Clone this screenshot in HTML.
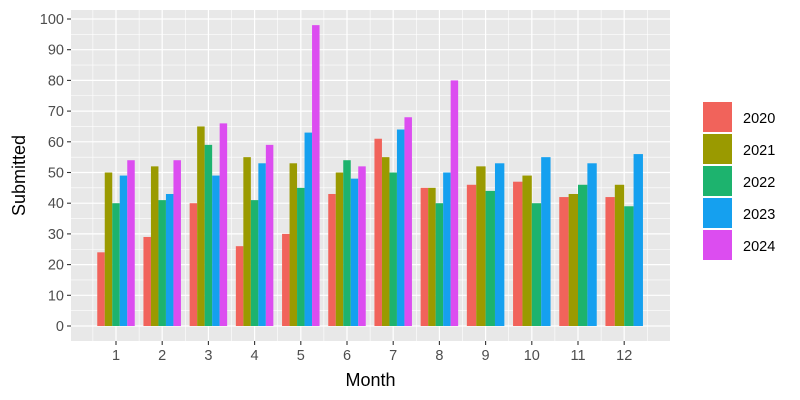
<!DOCTYPE html>
<html><head><style>body{margin:0;background:#fff}svg{display:block}text{font-family:"Liberation Sans",sans-serif}</style></head><body>
<svg width="800" height="400" id="s" xmlns="http://www.w3.org/2000/svg"></svg>
<script>
const s=document.getElementById('s');let h='';
const L=71,R=670,T=10,B=341;
const y0=326,k=3.07,x1=116,dx=46.2;
h+=`<rect x="${L}" y="${T}" width="${R-L}" height="${B-T}" fill="#e8e8e8"/>`;
for(let v=5;v<=100;v+=10)h+=`<line x1="${L}" x2="${R}" y1="${y0-v*k}" y2="${y0-v*k}" stroke="#fff" stroke-width="0.6"/>`;
for(let m=0.5;m<=12.5;m+=1)h+=`<line y1="${T}" y2="${B}" x1="${x1+(m-1)*dx}" x2="${x1+(m-1)*dx}" stroke="#fff" stroke-width="0.6"/>`;
for(let v=0;v<=100;v+=10){const y=y0-v*k;h+=`<line x1="${L}" x2="${R}" y1="${y}" y2="${y}" stroke="#fff" stroke-width="1.2"/><line x1="${L-4}" x2="${L}" y1="${y}" y2="${y}" stroke="#333" stroke-width="1.1"/><text x="${L-7}" y="${y+5}" text-anchor="end" font-size="14.5" fill="#4d4d4d">${v}</text>`;}
for(let m=1;m<=12;m++){const x=x1+(m-1)*dx;h+=`<line y1="${T}" y2="${B}" x1="${x}" x2="${x}" stroke="#fff" stroke-width="1.2"/><line y1="${B}" y2="${B+4}" x1="${x}" x2="${x}" stroke="#333" stroke-width="1.1"/><text x="${x}" y="${B+19}" text-anchor="middle" font-size="14.5" fill="#4d4d4d">${m}</text>`;}
const C=['#f1635b','#9a9a00','#1db36e','#15a0ef','#dc4df0'];
const D=[[24,50,40,49,54],[29,52,41,43,54],[40,65,59,49,66],[26,55,41,53,59],[30,53,45,63,98],[43,50,54,48,52],[61,55,50,64,68],[45,45,40,50,80],[46,52,44,53],[47,49,40,55],[42,43,46,53],[42,46,39,56]];
const W=37.5;
D.forEach((d,i)=>{const c=x1+i*dx,w=W/d.length;d.forEach((v,j)=>{h+=`<rect x="${c-W/2+j*w}" y="${y0-v*k}" width="${w}" height="${v*k}" fill="${C[j]}"/>`;});});
h+=`<text x="${(L+R)/2}" y="386" text-anchor="middle" font-size="18" fill="#000">Month</text>`;
h+=`<text transform="translate(25,${(T+B)/2}) rotate(-90)" text-anchor="middle" font-size="18" fill="#000">Submitted</text>`;
['2020','2021','2022','2023','2024'].forEach((t,i)=>{const y=102+i*32;h+=`<rect x="703" y="${y}" width="29" height="30" fill="${C[i]}"/><text x="743" y="${y+21}" font-size="14.5" fill="#000">${t}</text>`;});
s.innerHTML=h;
</script>
</body></html>
